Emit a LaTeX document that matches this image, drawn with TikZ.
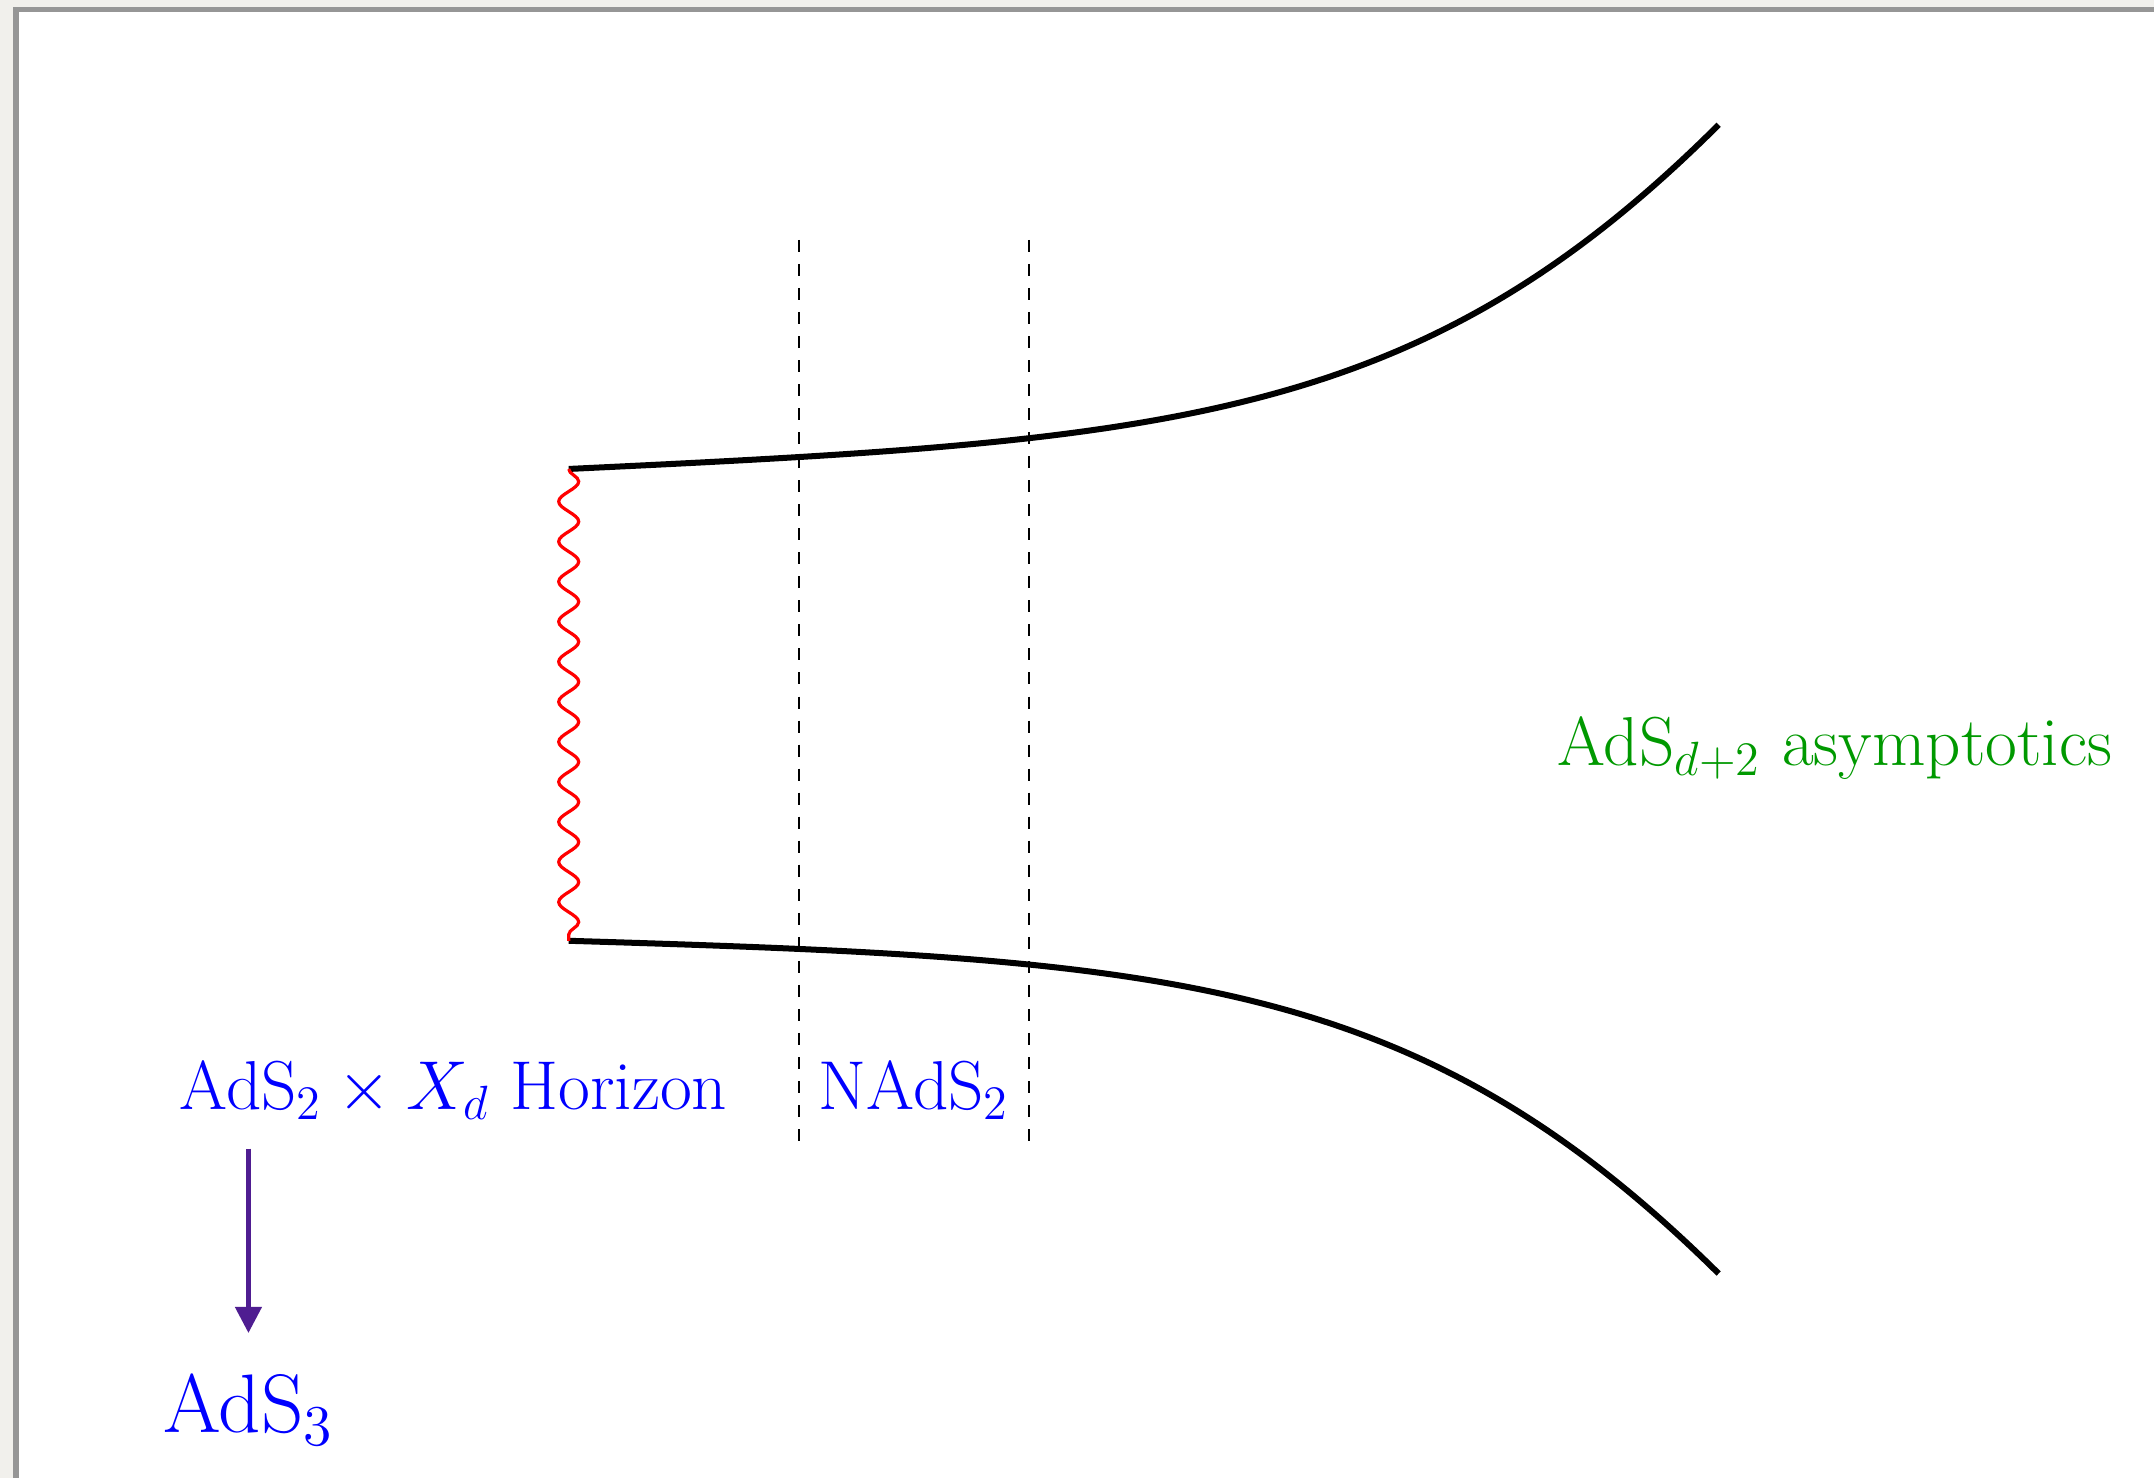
\documentclass[tikz,border=0pt]{standalone}
\usepackage{amsmath, amssymb}
\usepackage{tikz}
\usepackage{xcolor}
\definecolor{HorizonBlue}{HTML}{0000FF}
\definecolor{BulkGreen}{HTML}{009900}
\definecolor{FlowPurple}{HTML}{4F1D91}
\definecolor{FrameGray}{HTML}{969696}
\definecolor{Paper}{HTML}{F1F0EC}
\usetikzlibrary{arrows.meta, positioning, calc, decorations.pathmorphing}

\begin{document}
\begin{tikzpicture}[
        tag/.style={font=\LARGE, inner sep=0pt, anchor=base},
        wall/.style={line width=1.5pt, black},
        region/.style={dashed, thin, black},
        flow/.style={FlowPurple, line width=1.1pt, -{Triangle[width=6.5pt, length=6.5pt]}}
    ]
        \useasboundingbox (0,0) rectangle (18.9,12.965);
        \fill[Paper] (0,0) rectangle (18.9,12.965);
        \fill[white] (0.14,0) rectangle (18.9,12.882);
        \draw[FrameGray, line width=1.3pt] (0.14,0) -- (0.14,12.882) -- (18.9,12.882);

        \coordinate (hortop) at (4.99,8.85);
        \coordinate (horbot) at (4.99,4.71);
        \coordinate (bdytop) at (15.08,11.87);
        \coordinate (bdybot) at (15.08,1.79);

        \draw[wall] (hortop) .. controls (10.25,9.1) and (12.44,9.24) .. (bdytop);
        \draw[wall] (horbot) .. controls (10.25,4.55) and (12.42,4.42) .. (bdybot);
        \draw[red, thick, decorate, decoration={snake, amplitude=2.5pt, segment length=10pt}] (hortop) -- (horbot);

        \draw[region] (7.01,10.86) -- (7.01,2.9);
        \draw[region] (9.03,10.86) -- (9.03,2.9);

        \node (horizon) [tag, HorizonBlue] at (3.98,3.23) {AdS$_2\times X_d$ Horizon};
        \node (nads) [tag, HorizonBlue] at (8.02,3.23) {NAdS$_2$};
        \node (asympt) [tag, BulkGreen] at (16.1,6.25) {AdS$_{d+2}$ asymptotics};
        \node (ads3) [tag, HorizonBlue, font=\huge] at (2.18,0.395) {AdS$_3$};

        \draw[flow, shorten <=7pt, shorten >=10pt] (horizon.south -| ads3.north) -- (ads3.north);
    \end{tikzpicture}
\end{document}
